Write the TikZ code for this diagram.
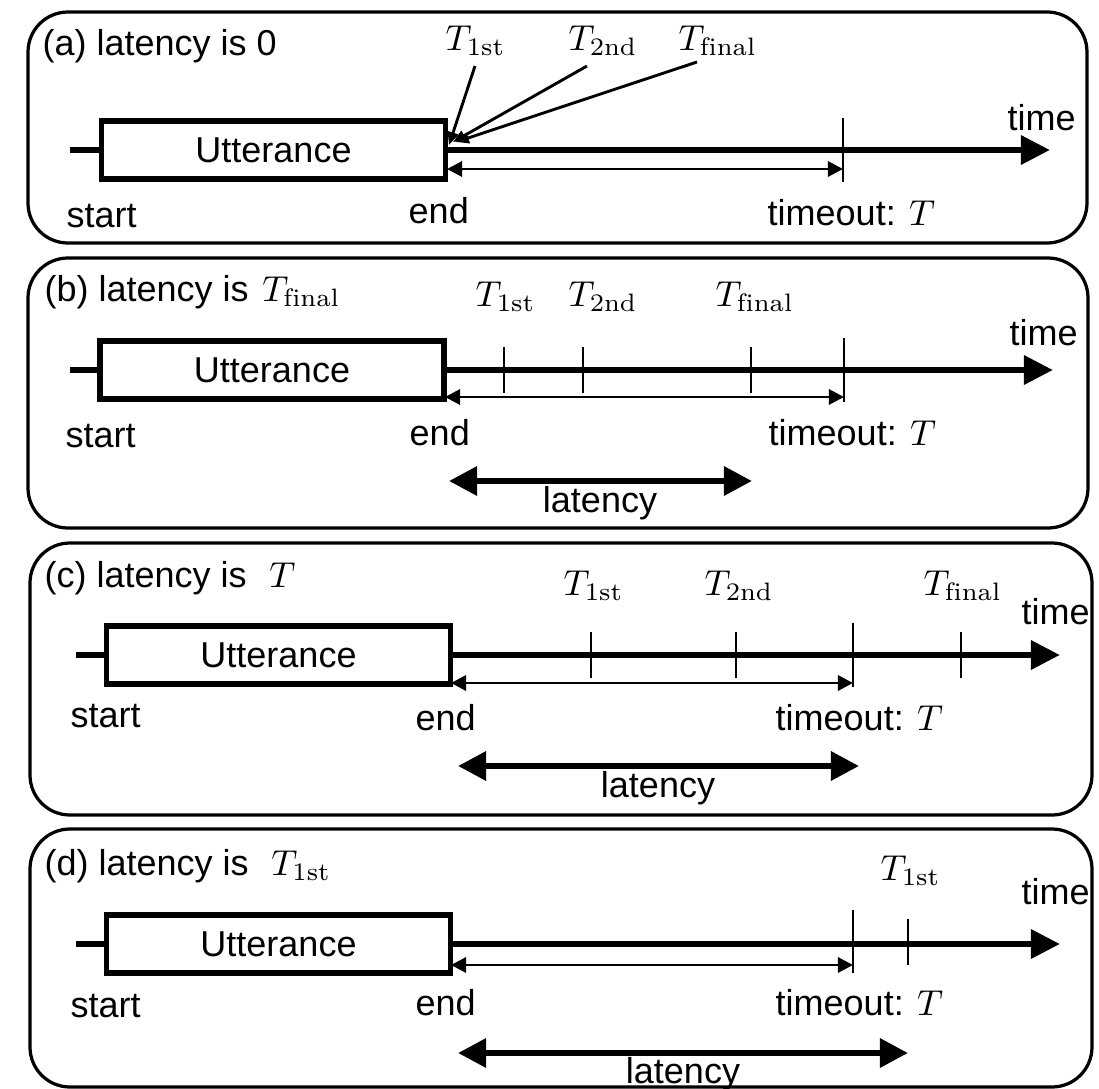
\documentclass[tikz,border=0pt]{standalone}
\usepackage{fontspec}
\newfontfamily\hv{Liberation Sans}
\usetikzlibrary{arrows.meta}
\begin{document}
\begin{tikzpicture}[x=0.27778pt,y=-0.27778pt,
  panel/.style={draw, line width=0.9pt, rounded corners=11.1pt},
  utt/.style={draw, line width=1.45pt, minimum width=95.6pt, minimum height=16.1pt, inner sep=0pt, font=\hv\fontsize{10}{12}\selectfont},
  axis/.style={line width=1.75pt, -{Triangle[length=8.06pt,width=7.78pt]}},
  stub/.style={line width=1.75pt},
  tickmark/.style={line width=0.8pt},
  span/.style={line width=0.8pt, {Triangle[length=4.2pt,width=4.2pt]}-{Triangle[length=4.2pt,width=4.2pt]}},
  lat/.style={line width=1.7pt, {Triangle[length=7.78pt,width=7.78pt]}-{Triangle[length=7.78pt,width=7.78pt]}},
  ptr/.style={line width=0.8pt, -{Triangle[length=3.6pt,width=3pt]}},
  lbl/.style={font=\hv\fontsize{10}{12}\selectfont, inner sep=0pt, anchor=base west},
  clbl/.style={font=\hv\fontsize{10}{12}\selectfont, inner sep=0pt, anchor=base},
  mlbl/.style={font=\fontsize{10}{12}\selectfont, inner sep=0pt, anchor=base west}
]
\useasboundingbox (0,0) rectangle (1099,1089);

% ---------------- panel (a)
\draw[panel] (28,12) rectangle (1087,243);
\node[lbl] (a-title) at (42,55) {(a) latency is 0};
\node[mlbl] (a-t1) at (445,50) {$T_{\mathrm{1st}}$};
\node[mlbl] (a-t2) at (568,50) {$T_{\mathrm{2nd}}$};
\node[mlbl] (a-tf) at (678,50) {$T_{\mathrm{final}}$};
\coordinate (a-p1) at (475,66);
\coordinate (a-p2) at (587,66);
\coordinate (a-p3) at (697,62);
\coordinate (a-q1) at (449,145);
\coordinate (a-q2) at (453,142);
\coordinate (a-q3) at (456,142);
\coordinate (a-s) at (70,150);
\node[utt] (a-u) at (273.5,150) {Utterance};
\coordinate (a-tip) at (1050,150);
\draw[stub] (a-s) -- (a-u.west);
\draw[axis] (a-u.east) -- (a-tip);
\coordinate (a-k1) at (843,118);
\coordinate (a-k2) at (843,182);
\draw[tickmark] (a-k1) -- (a-k2);
\coordinate (a-sp1) at (447,169);
\coordinate (a-sp2) at (843,169);
\draw[span] (a-sp1) -- (a-sp2);
\draw[ptr] (a-p1) -- (a-q1);
\draw[ptr] (a-p2) -- (a-q2);
\draw[ptr] (a-p3) -- (a-q3);
\node[lbl] (a-time) at (1007,130) {time};
\node[lbl] (a-to) at (767,225) {timeout: $T$};
\node[lbl] (a-start) at (66,227) {start};
\node[lbl] (a-end) at (408,223) {end};

% ---------------- panel (b)
\draw[panel] (28,258) rectangle (1088,528);
\node[lbl] (b-title) at (44,301) {(b) latency is \hspace{0.1em}$T_{\mathrm{final}}$};
\node[mlbl] (b-t1) at (475,306) {$T_{\mathrm{1st}}$};
\node[mlbl] (b-t2) at (568,306) {$T_{\mathrm{2nd}}$};
\node[mlbl] (b-tf) at (715,306) {$T_{\mathrm{final}}$};
\coordinate (b-s) at (70,370);
\node[utt] (b-u) at (272,370) {Utterance};
\coordinate (b-tip) at (1053,370);
\draw[stub] (b-s) -- (b-u.west);
\draw[axis] (b-u.east) -- (b-tip);
\coordinate (b-k11) at (504,347); \coordinate (b-k12) at (504,393);
\coordinate (b-k21) at (583,347); \coordinate (b-k22) at (583,393);
\coordinate (b-k31) at (751,347); \coordinate (b-k32) at (751,393);
\coordinate (b-k41) at (844,338); \coordinate (b-k42) at (844,402);
\draw[tickmark] (b-k11) -- (b-k12);
\draw[tickmark] (b-k21) -- (b-k22);
\draw[tickmark] (b-k31) -- (b-k32);
\draw[tickmark] (b-k41) -- (b-k42);
\coordinate (b-sp1) at (445,397);
\coordinate (b-sp2) at (844,397);
\draw[span] (b-sp1) -- (b-sp2);
\node[lbl] (b-time) at (1009,345) {time};
\node[lbl] (b-to) at (768,445) {timeout: $T$};
\node[lbl] (b-start) at (65,447) {start};
\node[lbl] (b-end) at (409,445) {end};
\coordinate (b-l1) at (449,481);
\coordinate (b-l2) at (752,481);
\draw[lat] (b-l1) -- (b-l2);
\node[clbl] (b-lat) at (600,512) {latency};

% ---------------- panel (c)
\draw[panel] (30,543) rectangle (1092,815);
\node[lbl] (c-title) at (44,587) {(c) latency is \hspace{0.35em}$T$};
\node[mlbl] (c-t1) at (563,595) {$T_{\mathrm{1st}}$};
\node[mlbl] (c-t2) at (704,595) {$T_{\mathrm{2nd}}$};
\node[mlbl] (c-tf) at (923,595) {$T_{\mathrm{final}}$};
\coordinate (c-s) at (76,655);
\node[utt] (c-u) at (278.5,655) {Utterance};
\coordinate (c-tip) at (1060,655);
\draw[stub] (c-s) -- (c-u.west);
\draw[axis] (c-u.east) -- (c-tip);
\coordinate (c-k11) at (591,632); \coordinate (c-k12) at (591,678);
\coordinate (c-k21) at (736,632); \coordinate (c-k22) at (736,678);
\coordinate (c-k31) at (961,632); \coordinate (c-k32) at (961,678);
\coordinate (c-k41) at (853,623); \coordinate (c-k42) at (853,687);
\draw[tickmark] (c-k11) -- (c-k12);
\draw[tickmark] (c-k21) -- (c-k22);
\draw[tickmark] (c-k31) -- (c-k32);
\draw[tickmark] (c-k41) -- (c-k42);
\coordinate (c-sp1) at (451,683);
\coordinate (c-sp2) at (853,683);
\draw[span] (c-sp1) -- (c-sp2);
\node[lbl] (c-time) at (1021,624) {time};
\node[lbl] (c-to) at (775,730) {timeout: $T$};
\node[lbl] (c-start) at (70,727) {start};
\node[lbl] (c-end) at (415,730) {end};
\coordinate (c-l1) at (458,766);
\coordinate (c-l2) at (859,766);
\draw[lat] (c-l1) -- (c-l2);
\node[clbl] (c-lat) at (658,797) {latency};

% ---------------- panel (d)
\draw[panel] (30,829) rectangle (1092,1087);
\node[lbl] (d-title) at (44,875) {(d) latency is \hspace{0.35em}$T_{\mathrm{1st}}$};
\node[mlbl] (d-t1) at (880,880) {$T_{\mathrm{1st}}$};
\coordinate (d-s) at (76,944);
\node[utt] (d-u) at (278.5,944) {Utterance};
\coordinate (d-tip) at (1060,944);
\draw[stub] (d-s) -- (d-u.west);
\draw[axis] (d-u.east) -- (d-tip);
\coordinate (d-k11) at (908,919); \coordinate (d-k12) at (908,965);
\coordinate (d-k41) at (853,910); \coordinate (d-k42) at (853,973);
\draw[tickmark] (d-k11) -- (d-k12);
\draw[tickmark] (d-k41) -- (d-k42);
\coordinate (d-sp1) at (451,965);
\coordinate (d-sp2) at (853,965);
\draw[span] (d-sp1) -- (d-sp2);
\node[lbl] (d-time) at (1021,904) {time};
\node[lbl] (d-to) at (775,1015) {timeout: $T$};
\node[lbl] (d-start) at (70,1017) {start};
\node[lbl] (d-end) at (415,1015) {end};
\coordinate (d-l1) at (458,1053);
\coordinate (d-l2) at (908,1053);
\draw[lat] (d-l1) -- (d-l2);
\node[clbl] (d-lat) at (683,1083) {latency};
\end{tikzpicture}
\end{document}
